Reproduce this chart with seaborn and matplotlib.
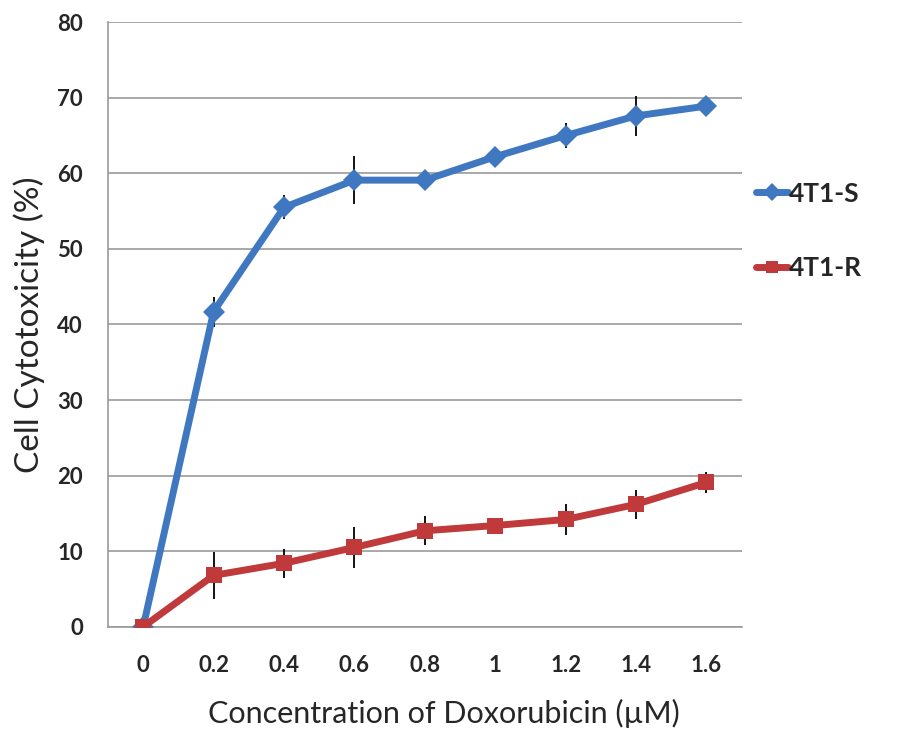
import matplotlib
matplotlib.use("Agg")
import matplotlib.pyplot as plt
import seaborn as sns
import pandas as pd
import numpy as np

# data
concentrations = ["0", "0.2", "0.4", "0.6", "0.8", "1", "1.2", "1.4", "1.6"]
s_values = [0, 41.7, 55.5, 59.1, 59.1, 62.2, 65.0, 67.6, 68.9]
s_errors = [0, 2.0, 1.6, 3.2, 0.6, 0.6, 1.6, 2.6, 1.3]
r_values = [0, 6.8, 8.4, 10.5, 12.7, 13.4, 14.2, 16.2, 19.1]
r_errors = [0, 3.1, 1.9, 2.7, 1.9, 0.5, 2.0, 1.9, 1.4]
series_names = ["4T1-S", "4T1-R"]

blue = "#3F78C0"
red = "#C0393B"

sns.set_theme(style="white")
plt.rcParams["font.family"] = ["Lato", "DejaVu Sans"]

pos = np.arange(len(concentrations))
df = pd.DataFrame({
    "pos": np.concatenate([pos, pos]),
    "value": s_values + r_values,
    "series": [series_names[0]] * len(pos) + [series_names[1]] * len(pos),
})

fig = plt.figure(figsize=(9, 7.4), dpi=100)
ax = fig.add_axes([0.12, 0.153, 0.704, 0.817])

# error bars first so markers sit on top
ax.errorbar(pos, s_values, yerr=s_errors, fmt="none", ecolor="black", elinewidth=1.3, capsize=0, zorder=2)
ax.errorbar(pos, r_values, yerr=r_errors, fmt="none", ecolor="black", elinewidth=1.3, capsize=0, zorder=2)

sns.lineplot(data=df, x="pos", y="value", hue="series", style="series",
             palette=[blue, red], markers=["D", "s"], dashes=False,
             linewidth=5, markersize=11, markeredgewidth=0, ax=ax, zorder=3)

ax.set_xlim(-0.5, len(pos) - 0.5)
ax.set_ylim(0, 80)
ax.set_yticks(range(0, 81, 10))
ax.set_xticks(pos)
ax.set_xticklabels(concentrations)
ax.tick_params(axis="x", length=0, labelsize=16, pad=20)
ax.tick_params(axis="y", length=0, labelsize=16, pad=18)
for lab in ax.get_xticklabels() + ax.get_yticklabels():
    lab.set_fontweight("bold")
ax.yaxis.grid(True, color="#9a9a9a", linewidth=1.2)
ax.xaxis.grid(False)
for side in ["top", "right"]:
    ax.spines[side].set_visible(False)
ax.spines["left"].set_color("#9a9a9a")
ax.spines["bottom"].set_color("#9a9a9a")
ax.spines["left"].set_linewidth(1.2)
ax.spines["bottom"].set_linewidth(1.2)

ax.set_xlabel("Concentration of Doxorubicin (\u00b5M)", fontsize=22)
ax.set_ylabel("Cell Cytotoxicity (%)", fontsize=24)
ax.xaxis.set_label_coords(0.53, -0.12)
ax.yaxis.set_label_coords(-0.1, 0.5)

leg = ax.legend(loc="center left", bbox_to_anchor=(0.985, 0.655), frameon=False,
                fontsize=19, handlelength=1.2, handletextpad=0.05, labelspacing=1.9,
                markerscale=0.8)
for txt in leg.get_texts():
    txt.set_fontweight("bold")

fig.savefig("out.png", dpi=100)
